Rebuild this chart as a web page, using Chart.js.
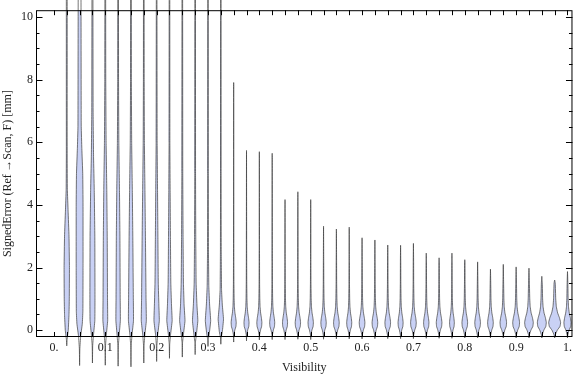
<!DOCTYPE html>
<html lang="en">
<head>
<meta charset="UTF-8">
<title>SignedError vs Visibility</title>
<style>
  html, body { margin: 0; padding: 0; background: #fff; }
  #wrap { width: 576px; height: 377px; }
</style>
</head>
<body>
<div id="wrap"><canvas id="chart" width="576" height="377"></canvas></div>
<script src="https://cdn.jsdelivr.net/npm/chart.js@4"></script>
<script>
// bin centres along the x axis
const visibility = [0.025, 0.05, 0.075, 0.1, 0.125, 0.15, 0.175, 0.2, 0.225, 0.25,
    0.275, 0.3, 0.325, 0.35, 0.375, 0.4, 0.425, 0.45, 0.475, 0.5,
    0.525, 0.55, 0.575, 0.6, 0.625, 0.65, 0.675, 0.7, 0.725, 0.75,
    0.775, 0.8, 0.825, 0.85, 0.875, 0.9, 0.925, 0.95, 0.975, 1.0];
// lowest / highest error in each bin (mm)
const tailLow = [-0.5, -1.13, -1.05, -1.12, -1.15, -1.17, -1.05, -1.0, -0.9, -0.86,
    -0.78, -0.52, -0.45, -0.38, -0.34, -0.31, -0.3, -0.3, -0.29, -0.3,
    -0.29, -0.28, -0.28, -0.28, -0.27, -0.27, -0.27, -0.27, -0.26, -0.26,
    -0.26, -0.25, -0.25, -0.25, -0.25, -0.25, -0.25, -0.25, -0.25, -0.25];
const tailHigh = [11.5, 11.5, 11.5, 11.5, 11.5, 11.5, 11.5, 11.5, 11.5, 11.5,
    11.5, 11.5, 11.5, 7.91, 5.74, 5.7, 5.65, 4.17, 4.42, 4.17,
    3.32, 3.23, 3.29, 2.95, 2.88, 2.72, 2.71, 2.77, 2.46, 2.31,
    2.46, 2.25, 2.18, 1.95, 2.1, 2.02, 1.98, 1.72, 1.6, 1.87];
// peak density of the bins that share the common shape below
const bulgeWidth = [null, null, null, null, null, null, null, null, null, null,
    null, null, null, 0.85, 0.85, 0.85, 0.85, 0.85, 0.9, 0.9,
    0.9, 0.95, 0.85, 0.95, 0.95, 0.95, 0.85, 0.95, 0.9, 0.95,
    0.8, 0.95, 0.95, 0.95, 1.1, 1.15, 1.45, 1.5, 2.0, 1.2];
// [error, density] for the first bins (wide spread)
const earlyProfiles = [
    [[-0.3, 0.12], [0, 0.5], [0.5, 0.75], [1, 0.85], [2, 0.9], [3, 0.75], [3.8, 0.45], [4.5, 0.2], [5.5, 0.14], [11, 0.14]],
    [[-0.6, 0.08], [-0.2, 0.35], [0.2, 0.9], [0.6, 1.1], [2, 1.15], [4, 1.15], [5, 1.05], [5.8, 0.75], [6.5, 0.55], [11, 0.45]],
    [[-0.5, 0.08], [-0.15, 0.35], [0.3, 0.8], [1, 0.85], [3, 0.8], [4.5, 0.6], [5.5, 0.38], [7, 0.22], [11, 0.15]],
    [[-0.5, 0.08], [-0.15, 0.35], [0.3, 0.8], [1, 0.75], [3, 0.65], [4.5, 0.5], [6, 0.28], [8, 0.16], [11, 0.12]],
    [[-0.5, 0.08], [-0.15, 0.35], [0.3, 0.75], [1, 0.7], [3, 0.6], [4.5, 0.45], [6, 0.24], [8, 0.14], [11, 0.12]],
    [[-0.5, 0.08], [-0.15, 0.35], [0.3, 0.85], [1, 0.8], [3, 0.62], [4.5, 0.45], [6, 0.24], [8, 0.14], [11, 0.12]],
    [[-0.5, 0.08], [-0.15, 0.35], [0.3, 0.85], [1, 0.75], [3, 0.55], [4.5, 0.38], [6, 0.2], [8, 0.13], [11, 0.1]],
    [[-0.5, 0.08], [-0.15, 0.35], [0.3, 0.9], [0.8, 0.75], [1.5, 0.55], [3, 0.42], [4.5, 0.3], [6, 0.17], [11, 0.1]],
    [[-0.45, 0.08], [-0.15, 0.35], [0.3, 0.9], [0.8, 0.68], [1.5, 0.45], [3, 0.32], [4.5, 0.22], [6, 0.13], [11, 0.1]],
    [[-0.4, 0.08], [-0.15, 0.35], [0.3, 0.9], [0.8, 0.6], [1.5, 0.38], [3, 0.25], [5, 0.15], [11, 0.1]],
    [[-0.4, 0.08], [-0.15, 0.4], [0.3, 0.9], [0.8, 0.6], [1.5, 0.33], [3, 0.2], [5, 0.13], [11, 0.1]],
    [[-0.3, 0.1], [-0.1, 0.45], [0.3, 0.9], [0.8, 0.55], [1.4, 0.28], [2.5, 0.16], [5, 0.1], [11, 0.08]],
    [[-0.25, 0.1], [-0.05, 0.5], [0.35, 0.9], [0.8, 0.5], [1.3, 0.24], [2.5, 0.14], [5, 0.09], [11, 0.08]]
];
// common relative shape of the later bins: [error, relative density]
const lateShape = [[-0.15, 0.1], [0, 0.45], [0.12, 0.9], [0.25, 1.0], [0.4, 0.8], [0.55, 0.5],
    [0.75, 0.28], [1.0, 0.18], [1.5, 0.1], [2.2, 0.07]];

const xTickValues = [0, 0.1, 0.2, 0.3, 0.4, 0.5, 0.6, 0.7, 0.8, 0.9, 1];
const xTickLabels = ['0.', '0.1', '0.2', '0.3', '0.4', '0.5', '0.6', '0.7', '0.8', '0.9', '1.'];
const yTickValues = [0, 2, 4, 6, 8, 10];
const yMinorTicks = [0.5, 1, 1.5, 2.5, 3, 3.5, 4.5, 5, 5.5, 6.5, 7, 7.5, 8.5, 9, 9.5];

const FONT = "'Liberation Serif', 'Times New Roman', serif";
const HALF = 0.0058; // x units per density unit

function knotsFor(i) {
    if (i < earlyProfiles.length) return earlyProfiles[i];
    return lateShape
        .filter(k => k[0] > tailLow[i] && k[0] < tailHigh[i])
        .map(k => [k[0], k[1] * bulgeWidth[i]]);
}

function violinPoints(i) {
    const c = visibility[i];
    const knots = knotsFor(i);
    const pts = [{ x: c, y: tailLow[i] }];
    knots.forEach(k => pts.push({ x: c + k[1] * HALF, y: k[0] }));
    pts.push({ x: c, y: tailHigh[i] });
    knots.slice().reverse().forEach(k => pts.push({ x: c - k[1] * HALF, y: k[0] }));
    pts.push({ x: c, y: tailLow[i] });
    return pts;
}

const datasets = visibility.map((v, i) => ({
    data: violinPoints(i),
    borderColor: 'rgba(60,60,60,0.7)',
    backgroundColor: 'rgb(201,209,245)',
    borderWidth: 1,
    borderJoinStyle: 'round',
    fill: 'shape',
    tension: 0.1,
    pointRadius: 0,
    clip: false
}));

// frame with inward ticks on all four sides
const frameTicks = {
    id: 'frameTicks',
    afterDatasetsDraw(chart) {
        const { ctx, chartArea: a, scales: { x, y } } = chart;
        ctx.save();
        ctx.strokeStyle = '#000';
        ctx.lineWidth = 1;
        ctx.beginPath();
        [0, ...visibility].forEach(v => {
            const px = Math.round(x.getPixelForValue(v)) + 0.5;
            ctx.moveTo(px, a.bottom); ctx.lineTo(px, a.bottom - 5);
            ctx.moveTo(px, a.top); ctx.lineTo(px, a.top + 5);
        });
        yTickValues.forEach(v => {
            const py = Math.round(y.getPixelForValue(v)) + 0.5;
            ctx.moveTo(a.left, py); ctx.lineTo(a.left + 6.5, py);
            ctx.moveTo(a.right, py); ctx.lineTo(a.right - 6.5, py);
        });
        yMinorTicks.forEach(v => {
            const py = Math.round(y.getPixelForValue(v)) + 0.5;
            ctx.moveTo(a.left, py); ctx.lineTo(a.left + 3.5, py);
            ctx.moveTo(a.right, py); ctx.lineTo(a.right - 3.5, py);
        });
        ctx.stroke();
        ctx.strokeRect(a.left + 0.5, a.top + 0.5, a.right - a.left - 1, a.bottom - a.top - 1);
        ctx.restore();
    }
};

new Chart(document.getElementById('chart'), {
    type: 'line',
    data: { datasets: datasets },
    options: {
        responsive: false,
        animation: false,
        layout: { padding: { top: 4, right: 1, left: 0, bottom: 0 } },
        elements: { line: { capBezierPoints: false } },
        plugins: { legend: { display: false }, tooltip: { enabled: false } },
        scales: {
            x: {
                type: 'linear',
                min: -0.0349,
                max: 1.0097,
                afterFit: s => { s.height = 40; },
                afterBuildTicks: s => { s.ticks = xTickValues.map(v => ({ value: v })); },
                grid: { display: false, drawTicks: false },
                border: { display: false },
                ticks: {
                    autoSkip: false, maxRotation: 0, padding: 4,
                    color: '#222', font: { family: FONT, size: 12 },
                    callback: (v, i) => xTickLabels[i]
                },
                title: {
                    display: true, text: 'Visibility', color: '#222',
                    font: { family: FONT, size: 12 }, padding: { top: 0, bottom: 2 }
                }
            },
            y: {
                min: -0.219,
                max: 10.22,
                afterFit: s => { s.width = 36; },
                afterBuildTicks: s => { s.ticks = yTickValues.map(v => ({ value: v })); },
                grid: { display: false, drawTicks: false },
                border: { display: false },
                ticks: {
                    padding: 3, color: '#222', font: { family: FONT, size: 12 },
                    callback: v => String(v)
                },
                title: {
                    display: true, text: 'SignedError (Ref\u2009\u2192Scan, F) [mm]', color: '#222',
                    font: { family: FONT, size: 12 }, padding: { top: 1, bottom: 0 }
                }
            }
        }
    },
    plugins: [frameTicks]
});
</script>
</body>
</html>
